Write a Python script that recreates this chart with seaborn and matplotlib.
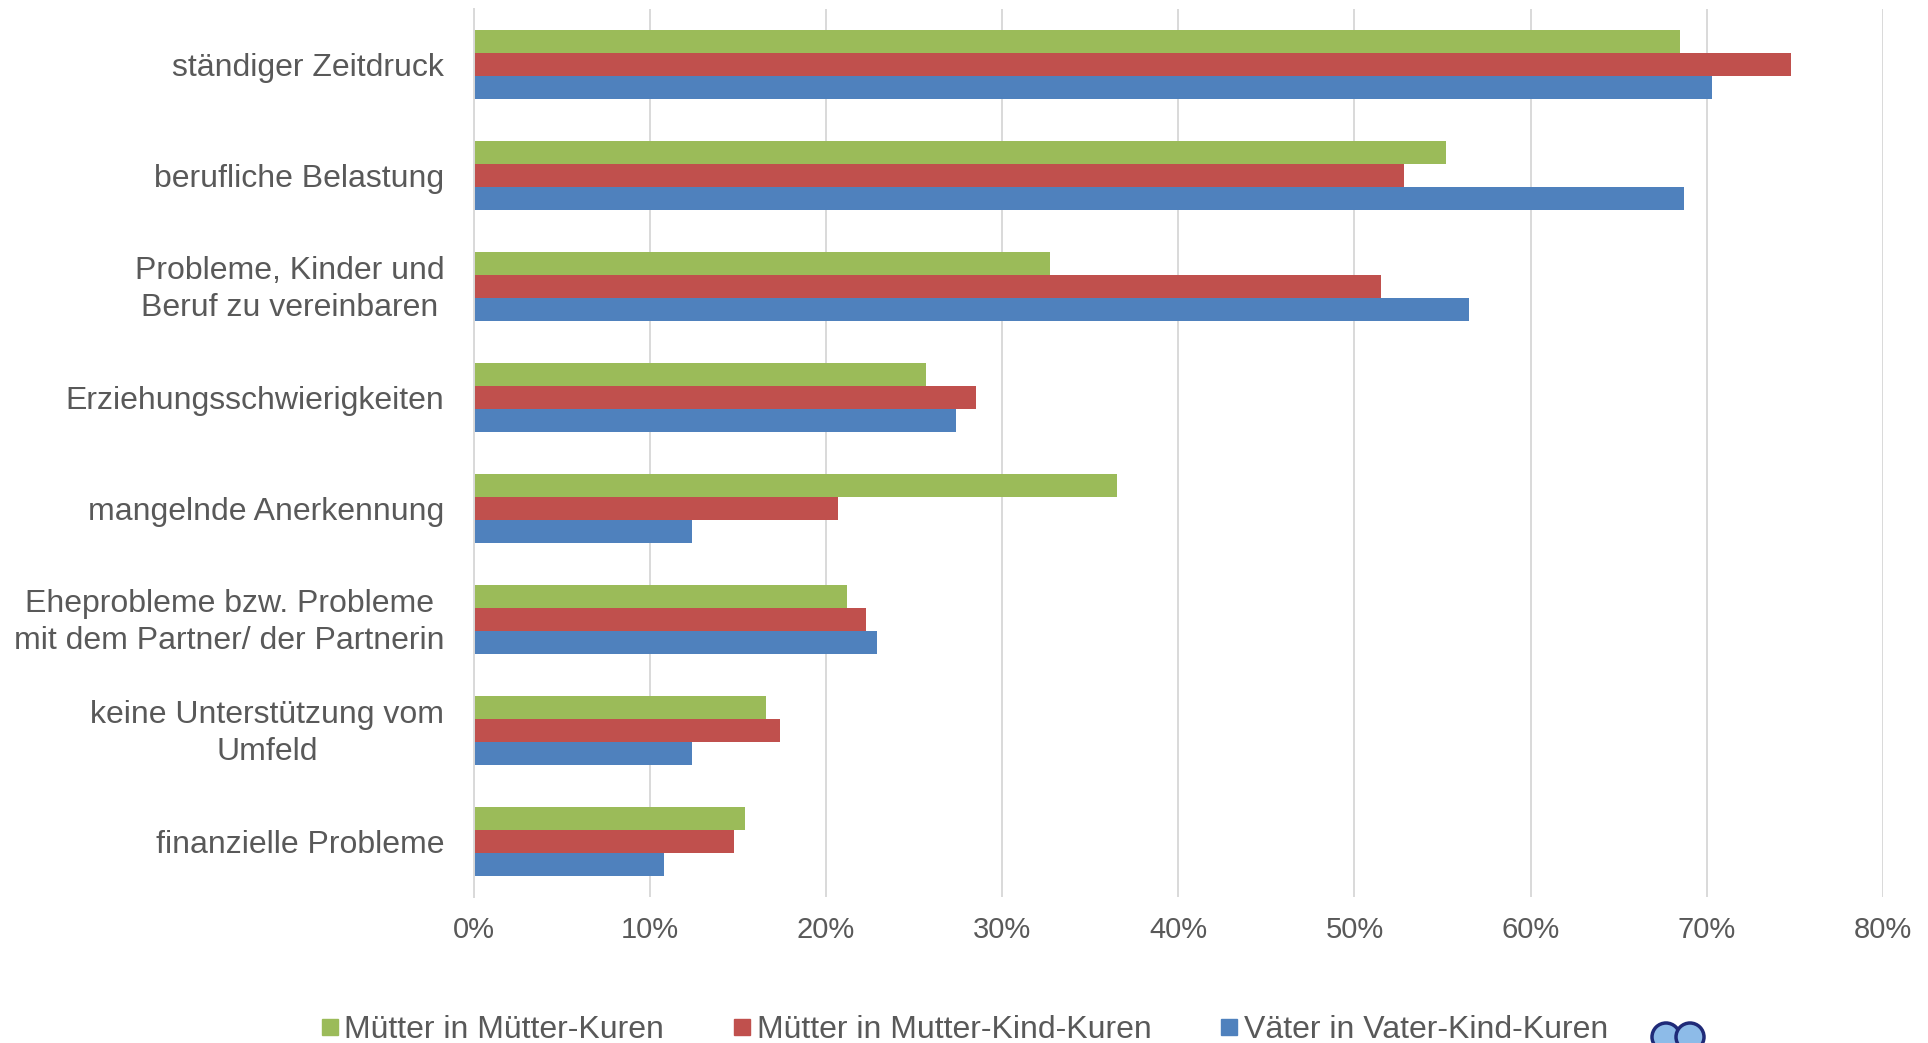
import numpy as np
import pandas as pd
import matplotlib
matplotlib.use('Agg')
import matplotlib.pyplot as plt
import seaborn as sns
from matplotlib.lines import Line2D
from matplotlib.patches import Circle
from matplotlib.ticker import FuncFormatter
from matplotlib.transforms import ScaledTranslation

# Daten (Anteile in Prozent)
kategorien = [
    "ständiger Zeitdruck",
    "berufliche Belastung",
    "Probleme, Kinder und\nBeruf zu vereinbaren",
    "Erziehungsschwierigkeiten",
    "mangelnde Anerkennung",
    "Eheprobleme bzw. Probleme\nmit dem Partner/ der Partnerin",
    "keine Unterstützung vom\nUmfeld",
    "finanzielle Probleme",
]
muetter_kuren = [68.5, 55.2, 32.7, 25.7, 36.5, 21.2, 16.6, 15.4]
mutter_kind_kuren = [74.8, 52.8, 51.5, 28.5, 20.7, 22.3, 17.4, 14.8]
vater_kind_kuren = [70.3, 68.7, 56.5, 27.4, 12.4, 22.9, 12.4, 10.8]

gruppen = ["Mütter in Mütter-Kuren", "Mütter in Mutter-Kind-Kuren", "Väter in Vater-Kind-Kuren"]
farben = ["#9BBB59", "#C0504D", "#4F81BD"]
x_ticks = [0, 10, 20, 30, 40, 50, 60, 70, 80]

df = pd.DataFrame({
    "kategorie": kategorien * 3,
    "wert": muetter_kuren + mutter_kind_kuren + vater_kind_kuren,
    "gruppe": [g for g in gruppen for _ in kategorien],
})

textfarbe = "#595959"
gridfarbe = "#D9D9D9"

sns.set_style("white")
plt.rcParams['font.family'] = ['Liberation Sans', 'DejaVu Sans']

fig = plt.figure(figsize=(19.28, 10.43), dpi=100)
ax = fig.add_axes([473.5 / 1928, 1 - 897 / 1043, (1883 - 473.5) / 1928, (897 - 9) / 1043])

sns.barplot(data=df, x="wert", y="kategorie", hue="gruppe", hue_order=gruppen,
            palette=farben, order=kategorien, orient="h", width=0.62,
            saturation=1, legend=False, ax=ax, linewidth=0)

ax.set_xlim(0, 80)
ax.set_xticks(x_ticks)
ax.xaxis.set_major_formatter(FuncFormatter(lambda v, p: f"{v:.0f}%"))
ax.set_xlabel("")
ax.set_ylabel("")
ax.grid(axis="x", color=gridfarbe, linewidth=1.4)
ax.grid(axis="y", visible=False)
ax.set_axisbelow(True)

for s in ["top", "right", "bottom"]:
    ax.spines[s].set_visible(False)
ax.spines["left"].set_color(gridfarbe)
ax.spines["left"].set_linewidth(1.4)

ax.tick_params(axis="x", length=0, pad=14, labelsize=21, labelcolor=textfarbe)
ax.tick_params(axis="y", length=0, pad=21, labelsize=23, labelcolor=textfarbe)

# zweizeilige Beschriftungen zentriert und etwas nach oben
hoch = ScaledTranslation(0, 4 / 100, fig.dpi_scale_trans)
for lbl in ax.get_yticklabels():
    lbl.set_multialignment("center")
    lbl.set_linespacing(1.3)
    if "\n" in lbl.get_text():
        lbl.set_transform(lbl.get_transform() + hoch)

# Legende unten
handles = [Line2D([0], [0], marker="s", linestyle="none", markersize=12.2,
                  markerfacecolor=c, markeredgecolor=c) for c in farben]
fig.legend(handles, gruppen, loc="center left", bbox_to_anchor=(320 / 1928, 13 / 1043),
           ncol=3, frameon=False, fontsize=23, labelcolor=textfarbe,
           handlelength=0.6, handletextpad=0.16, columnspacing=2.14, borderpad=0,
           borderaxespad=0)

# kleines Logo rechts neben der Legende (angeschnitten)
for cx in [16.66, 16.90]:
    fig.add_artist(Circle((cx, 0.06), 0.14, transform=fig.dpi_scale_trans,
                          facecolor="#8DBBE8", edgecolor="#1F2A78", linewidth=2.5))

fig.savefig("out.png", dpi=100)
